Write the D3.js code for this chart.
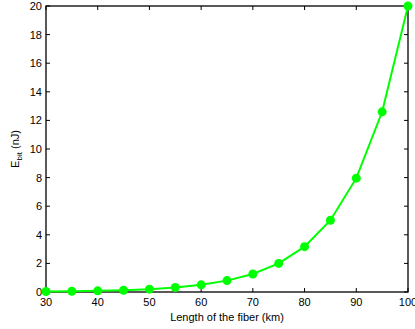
<!DOCTYPE html>
<html><head><meta charset="utf-8">
<script src="https://cdn.jsdelivr.net/npm/d3@7"></script>
<style>body{margin:0;background:#fff;} text{font-family:"Liberation Sans",Arial,sans-serif;}</style>
</head><body>
<svg id="c" width="415" height="329"></svg>
<script>
const lengths = [30,35,40,45,50,55,60,65,70,75,80,85,90,95,100];
const ebit = [0.032,0.05,0.08,0.126,0.2,0.317,0.502,0.796,1.26,2.0,3.17,5.02,7.96,12.6,20];
const xTicks = [30,40,50,60,70,80,90,100];
const yTicks = [0,2,4,6,8,10,12,14,16,18,20];

const svg = d3.select("#c");
const L=46,R=408,T=6,B=292;
const x = d3.scaleLinear().domain([30,100]).range([L,R]);
const y = d3.scaleLinear().domain([0,20]).range([B,T]);
const tl = 4;

const g = svg.append("g");
// ticks inside on all sides
xTicks.forEach(t=>{
  g.append("line").attr("x1",x(t)).attr("x2",x(t)).attr("y1",B).attr("y2",B-tl).attr("stroke","#000");
  g.append("line").attr("x1",x(t)).attr("x2",x(t)).attr("y1",T).attr("y2",T+tl).attr("stroke","#000");
  g.append("text").attr("x",x(t)).attr("y",306).attr("text-anchor","middle").attr("font-size",11).text(t);
});
yTicks.forEach(t=>{
  g.append("line").attr("x1",L).attr("x2",L+tl).attr("y1",y(t)).attr("y2",y(t)).attr("stroke","#000");
  g.append("line").attr("x1",R).attr("x2",R-tl).attr("y1",y(t)).attr("y2",y(t)).attr("stroke","#000");
  g.append("text").attr("x",L-4).attr("y",y(t)+4).attr("text-anchor","end").attr("font-size",11).text(t);
});
g.append("rect").attr("x",L).attr("y",T).attr("width",R-L).attr("height",B-T)
  .attr("fill","none").attr("stroke","#000").attr("stroke-width",1.3);

const data = lengths.map((d,i)=>[d,ebit[i]]);
svg.append("path").datum(data)
  .attr("d", d3.line().x(d=>x(d[0])).y(d=>y(d[1])))
  .attr("fill","none").attr("stroke","#00ff00").attr("stroke-width",2);
svg.selectAll("circle.p").data(data).join("circle")
  .attr("cx",d=>x(d[0])).attr("cy",d=>y(d[1])).attr("r",4.5).attr("fill","#00ff00");

svg.append("text").attr("x",(L+R)/2).attr("y",321).attr("text-anchor","middle").attr("font-size",11)
  .text("Length of the fiber (km)");
const yl = svg.append("text").attr("transform",`translate(19,${(T+B)/2}) rotate(-90)`)
  .attr("text-anchor","middle").attr("font-size",11);
yl.append("tspan").text("E");
yl.append("tspan").attr("font-size",8).attr("dy",3).text("bit");
yl.append("tspan").attr("dy",-3).text(" (nJ)");
</script>
</body></html>
